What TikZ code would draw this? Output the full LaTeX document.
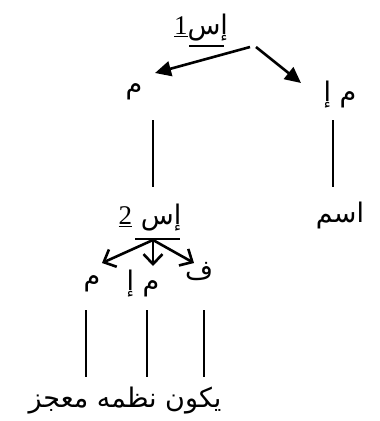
\documentclass[tikz,border=0pt]{standalone}
\usepackage{fontspec}
\setmainfont{Liberation Serif}
\newfontfamily\arabicfont[Script=Arabic]{DejaVu Sans}
\TeXXeTstate=1
\usetikzlibrary{arrows.meta}
\begin{document}
\begin{tikzpicture}[x=1pt,y=-1pt,
  ar/.style={font=\arabicfont\fontsize{27}{32}\selectfont, inner sep=0pt},
  edge/.style={line width=2.6pt},
  bar/.style={line width=2.8pt},
  arr/.style={edge,-{Triangle[length=16pt,width=15pt]}},
  barb/.style={edge,-{Straight Barb[length=10pt,width=19pt,line width=2.6pt]}}]
\useasboundingbox (0,0) rectangle (380,421);
% top label
\node[ar] (s1) at (201,28) {{\fontsize{27}{32}\rmfamily\underline{1}}\beginR إس\endR};
\draw[bar] (189,46) -- (224,46);
\coordinate (t1) at (250,47);
\coordinate (t2) at (256,47);
\node[ar] (m1) at (134,92) {\beginR م\endR};
\node[ar] (me1) at (340,95) {\beginR م إ\endR};
\coordinate (a1) at (155,73);
\coordinate (a2) at (301,83);
\draw[arr] (t1) -- (a1);
\draw[arr] (t2) -- (a2);
% verticals
\coordinate (v1a) at (153,120); \coordinate (v1b) at (153,187);
\coordinate (v2a) at (333,120); \coordinate (v2b) at (333,187);
\draw[edge] (v1a) -- (v1b);
\draw[edge] (v2a) -- (v2b);
\node[ar] (ism) at (340,215) {\beginR اسم\endR};
% second label
\node[ar] (s2) at (150,218) {{\fontsize{27}{32}\rmfamily\underline{2}}\ \beginR إس\endR};
\draw[bar] (135,239) -- (180,239);
\coordinate (o2) at (153,240);
\coordinate (b1) at (102,263);
\coordinate (b2) at (153,266);
\coordinate (b3) at (194,263);
\draw[barb] (o2) -- (b1);
\draw[barb] (o2) -- (b2);
\draw[barb] (o2) -- (b3);
\node[ar] (m2) at (92,284) {\beginR م\endR};
\node[ar] (me2) at (143,284) {\beginR م إ\endR};
\node[ar] (f2) at (199,272) {\beginR ف\endR};
% bottom verticals
\coordinate (w1a) at (86,310); \coordinate (w1b) at (86,377);
\coordinate (w2a) at (147,310); \coordinate (w2b) at (147,377);
\coordinate (w3a) at (204,310); \coordinate (w3b) at (204,377);
\draw[edge] (w1a) -- (w1b);
\draw[edge] (w2a) -- (w2b);
\draw[edge] (w3a) -- (w3b);
\node[ar] (bot) at (125,401) {\beginR يكون نظمه معجز\endR};
\end{tikzpicture}
\end{document}
